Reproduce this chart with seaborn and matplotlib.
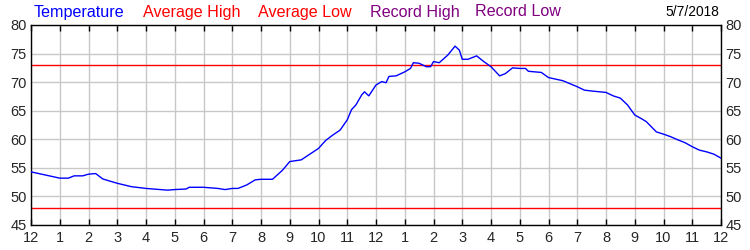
import matplotlib
matplotlib.use("Agg")
import matplotlib.pyplot as plt
import seaborn as sns
import pandas as pd

hours = [0, 0.5, 1, 1.3, 1.5, 1.8, 2, 2.25, 2.5, 3, 3.5, 4, 4.5, 4.75, 5, 5.4, 5.5, 6, 6.5, 6.75,
         7, 7.2, 7.5, 7.6, 7.8, 8, 8.4, 8.75, 9, 9.4, 9.7, 10, 10.25, 10.5, 10.75, 11, 11.15, 11.3,
         11.5, 11.6, 11.75, 12, 12.2, 12.35, 12.45, 12.7, 13, 13.2, 13.3, 13.5, 13.75, 13.9, 14,
         14.2, 14.5, 14.75, 14.9, 15, 15.2, 15.3, 15.5, 15.75, 16, 16.3, 16.5, 16.75, 17, 17.2,
         17.3, 17.75, 18, 18.5, 19, 19.25, 19.5, 20, 20.25, 20.5, 20.75, 21, 21.25, 21.4, 21.75,
         22, 22.25, 22.5, 22.75, 23, 23.25, 23.5, 23.75, 24]
temperature = [54.3, 53.75, 53.2, 53.2, 53.6, 53.6, 53.9, 54.0, 53.05, 52.3, 51.7, 51.4, 51.2, 51.1,
               51.2, 51.3, 51.6, 51.6, 51.4, 51.2, 51.4, 51.4, 52.0, 52.3, 52.9, 53.0, 53.0, 54.6,
               56.1, 56.4, 57.4, 58.4, 59.8, 60.75, 61.6, 63.4, 65.2, 66.0, 67.75, 68.3, 67.6, 69.5,
               70.1, 69.9, 71.0, 71.1, 71.8, 72.4, 73.4, 73.3, 72.7, 72.7, 73.6, 73.4, 74.75, 76.3,
               75.6, 74.0, 74.0, 74.2, 74.6, 73.6, 72.7, 71.1, 71.5, 72.5, 72.4, 72.4, 71.9, 71.7,
               70.8, 70.25, 69.2, 68.6, 68.45, 68.2, 67.6, 67.2, 66.0, 64.25, 63.55, 63.1, 61.3,
               60.9, 60.45, 59.9, 59.4, 58.7, 58.1, 57.8, 57.4, 56.7]
average_high = 73
average_low = 48
tick_labels = ["12", "1", "2", "3", "4", "5", "6", "7", "8", "9", "10", "11",
               "12", "1", "2", "3", "4", "5", "6", "7", "8", "9", "10", "11", "12"]
legend_items = [("Temperature", "#0000ff"), ("Average High", "#ff0000"), ("Average Low", "#ff0000"),
                ("Record High", "#800080"), ("Record Low", "#800080")]
date_label = "5/7/2018"

sns.set_style("white")
plt.rcParams['font.family'] = ['Liberation Sans', 'DejaVu Sans']

fig = plt.figure(figsize=(7.5, 2.5), dpi=100)
ax = fig.add_axes([31/750, 1-225/250, 690/750, 200/250])

df = pd.DataFrame({"hour": hours, "temp": temperature})
ax.axhline(average_high, color="#ff0000", lw=1, zorder=2)
ax.axhline(average_low, color="#ff0000", lw=1, zorder=2)
sns.lineplot(data=df, x="hour", y="temp", ax=ax, color="#0000ff", lw=1, zorder=3)

ax.set_xlim(0, 24)
ax.set_ylim(45, 80)
ax.set_xticks(range(25))
ax.set_xticklabels(tick_labels)
ax.set_yticks(range(45, 81, 5))
ax.set_xlabel("")
ax.set_ylabel("")
ax.grid(True, color="#c8c8c8", lw=1)
ax.set_axisbelow(True)
for s in ax.spines.values():
    s.set_color("black")
    s.set_linewidth(1)
ax.tick_params(axis="x", which="both", direction="in", length=4, width=1, color="black",
               labelsize=10.5, pad=4, top=True, bottom=True)
ax.tick_params(axis="y", which="both", direction="in", length=0, labelsize=10.5, pad=3,
               left=True, right=True, labelright=True, labelleft=True)

xpos = [34, 143, 258, 370, 475]
for (txt, col), xp in zip(legend_items, xpos):
    fig.text(xp/750, 1-12/250, txt, color=col, fontsize=11.6, va="center", ha="left")
fig.text(719/750, 1-12/250, date_label, color="black", fontsize=9.9, va="center", ha="right")

fig.savefig("out.png", dpi=100)
